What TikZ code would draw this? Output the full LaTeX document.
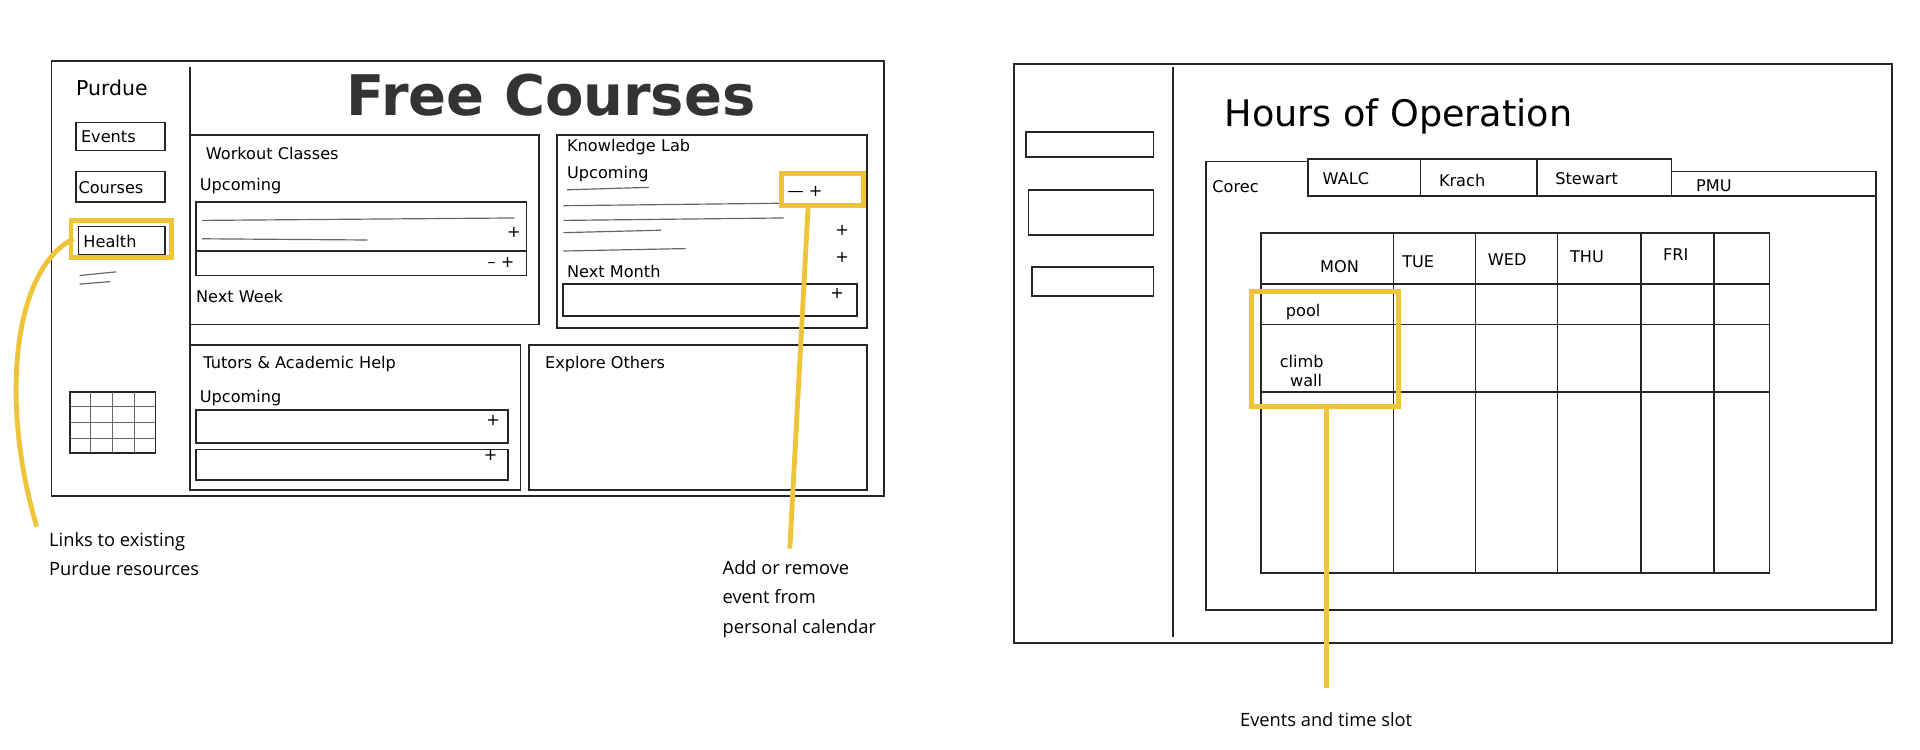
\documentclass[tikz,border=0pt]{standalone}
\usepackage{fontspec}
\setmainfont{Open Sans}
\newfontfamily\hand{DejaVu Sans}
\begin{document}
\begin{tikzpicture}[x=0.04cm,y=-0.04cm,
  sk/.style={draw=black!85,line width=1.6pt},
  hl/.style={draw={rgb,255:red,238;green,196;blue,58},line width=4.5pt},
  lbl/.style={font=\hand\fontsize{15}{17}\selectfont,anchor=west,inner sep=0pt},
  captxt/.style={font=\fontsize{17}{27}\selectfont,align=left,inner sep=0pt},
  ln/.style={draw=black!60,line width=1.1pt}]
\useasboundingbox (0,0) rectangle (1568,612);
\fill[white] (0,0) rectangle (1568,612);
% ---- left sketch
\draw[sk] (42,50) rectangle (722,405);
\draw[sk] (155,55) -- (155,400);
\node[lbl,font=\hand\fontsize{19}{19}\selectfont] (pur) at (62,72) {Purdue};
\draw[sk] (62,100) rectangle (135,123);
\node[lbl] (ev) at (66,112) {Events};
\draw[sk] (62,140) rectangle (135,165);
\node[lbl] (co) at (64,153) {Courses};
\draw[sk] (64,185) rectangle (135,208);
\node[lbl] (he) at (68,197) {Health};
\draw[ln] (65,225) -- (95,222) (65,232) -- (90,230);
\draw[sk] (57,320) rectangle (127,370);
\foreach \x in {74,92,110} \draw[ln] (\x,320) -- (\x,370);
\foreach \y in {332,345,358} \draw[ln] (57,\y) -- (127,\y);
\node[font=\hand\bfseries\fontsize{52}{52}\selectfont,text=black!80] (title) at (450,78) {Free Courses};
% panels
\draw[sk] (155,110) rectangle (440,265);
\node[lbl] (wc) at (168,125) {Workout Classes};
\node[lbl] (up1) at (163,152) {Upcoming};
\draw[sk] (160,165) rectangle (430,205);
\draw[ln] (165,180) -- (420,178) (165,195) -- (300,196);
\node[lbl] at (414,190) {+};
\draw[sk] (160,205) rectangle (430,225);
\node[lbl] at (398,214) {– +};
\node[lbl] (nw) at (160,242) {Next Week};
\draw[sk] (455,110) rectangle (708,268);
\node[lbl] (kl) at (463,120) {Knowledge Lab};
\node[lbl] (up2) at (463,142) {Upcoming};
\draw[ln] (463,155) -- (530,153) (460,168) -- (636,166) (460,180) -- (640,178);
\draw[ln] (460,190) -- (540,188) (460,205) -- (560,203);
\node[lbl] at (682,188) {+};
\node[lbl] at (682,210) {+};
\node[lbl] (nm) at (463,222) {Next Month};
\draw[sk] (460,232) rectangle (700,258);
\node[lbl] at (678,240) {+};
\node[lbl] at (643,156) {— +};
\draw[sk] (155,282) rectangle (425,400);
\node[lbl] (tu) at (166,297) {Tutors \& Academic Help};
\node[lbl] (up3) at (163,325) {Upcoming};
\draw[sk] (160,335) rectangle (415,362);
\draw[sk] (160,367) rectangle (415,392);
\node[lbl] at (397,343) {+}; \node[lbl] at (395,372) {+};
\draw[sk] (432,282) rectangle (708,400);
\node[lbl] (ex) at (445,297) {Explore Others};
% highlights left
\draw[hl] (58,180) rectangle (140,210);
\draw[hl] (638,142) rectangle (705,168);
\coordinate (hA) at (60,195);
\coordinate (pA) at (660,168);
\node[captxt,anchor=north west] (c1) at (40,435) {Links to existing\\Purdue resources};
\node[captxt,anchor=north west] (c2) at (590,458) {Add or remove\\event from\\personal calendar};
\draw[hl] (hA) .. controls (10,220) and (0,330) .. (30,430);
\draw[hl] (pA) -- (645,448);
% ---- right sketch
\draw[sk] (828,52) rectangle (1545,525);
\draw[sk] (958,55) -- (958,520);
\draw[sk] (838,108) rectangle (942,128);
\draw[sk] (840,155) rectangle (942,192);
\draw[sk] (843,218) rectangle (942,242);
\draw[sk] (985,160) -- (985,498) -- (1532,498) -- (1532,160);
\node[lbl,font=\hand\fontsize{34}{34}\selectfont] (hoo) at (1000,95) {Hours of Operation};
\draw[sk] (985,160) -- (985,132) -- (1068,132);
\node[lbl] (t1) at (990,152) {Corec};
\draw[sk] (1068,160) rectangle (1160,130);
\node (t2) [lbl] at (1080,146) {WALC};
\draw[sk] (1160,160) rectangle (1255,130);
\node (t3) [lbl] at (1175,147) {Krach};
\draw[sk] (1255,160) rectangle (1365,130);
\node (t4) [lbl] at (1270,146) {Stewart};
\draw[sk] (1365,160) -- (1365,140) -- (1532,140) -- (1532,160);
\draw[sk] (1068,160) -- (1532,160);
\node (t5) [lbl] at (1385,152) {PMU};
\draw[sk] (1030,190) rectangle (1445,468);
\foreach \x in {1138,1205,1272,1340,1400} \draw[sk] (\x,190) -- (\x,468);
\foreach \y in {232,265,320} \draw[sk] (1030,\y) -- (1445,\y);
\node[lbl] at (1078,218) {MON};
\node[lbl] at (1145,214) {TUE};
\node[lbl] at (1215,212) {WED};
\node[lbl] at (1282,210) {THU};
\node[lbl] at (1358,208) {FRI};
\node[lbl] (pool) at (1050,255) {pool};
\node[lbl,align=left] (cw) at (1045,303) {climb\\\ \ wall};
\draw[hl] (1022,238) rectangle (1142,332);
\coordinate (tA) at (1083,332);
\node[captxt,anchor=center] (c3) at (1083,588) {Events and time slot};
\draw[hl] (tA) -- (1083,562);
\end{tikzpicture}
\end{document}
